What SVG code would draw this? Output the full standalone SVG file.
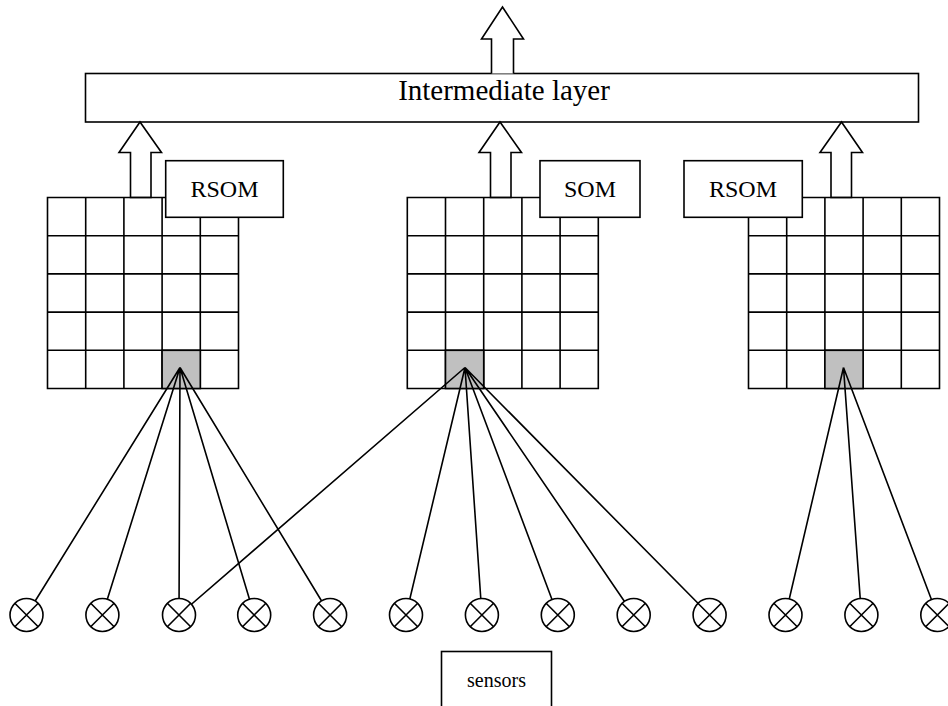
<svg xmlns="http://www.w3.org/2000/svg" width="948" height="706" viewBox="0 0 948 706">
  <style>
    .ln { fill: none; stroke: #000; stroke-width: 1.6; }
    .box { fill: #fff; stroke: #000; stroke-width: 1.6; }
    .arrow { fill: #fff; stroke: #000; stroke-width: 1.6; stroke-linejoin: miter; }
    .win { fill: #c0c0c0; stroke: #000; stroke-width: 1.6; }
    .lbl { font-family: "Liberation Serif", "Times New Roman", serif; fill: #000; text-anchor: middle; }
    .sensor { fill: #fff; stroke: #000; stroke-width: 1.6; }
  </style>
  <defs>
    <!-- 5x5 map grid, cell 38.2 -->
    <g id="grid">
      <path class="ln" d="M0,0 H191 V191 H0 Z M38.2,0 V191 M76.4,0 V191 M114.6,0 V191 M152.8,0 V191 M0,38.2 H191 M0,76.4 H191 M0,114.6 H191 M0,152.8 H191"/>
    </g>
    <!-- sensor symbol: circle with a cross -->
    <g id="sensor">
      <circle class="sensor" cx="0" cy="0" r="16.5"/>
      <path class="ln" d="M-11.7,-11.7 L11.7,11.7 M11.7,-11.7 L-11.7,11.7"/>
    </g>
  </defs>

  <!-- intermediate layer -->
  <g id="intermediate">
    <rect class="box" x="85.5" y="73.5" width="833" height="48.5"/>
    <text class="lbl" x="504" y="100" font-size="29">Intermediate layer</text>
  </g>

  <!-- output arrow -->
  <g id="out-arrow">
    <path class="arrow" d="M491.5,73.5 V39 H481.5 L502.5,7 L523.5,39 H513.5 V73.5"/>
  </g>

  <!-- left RSOM -->
  <g id="rsom-left">
    <path class="arrow" d="M130.5,197.5 V152.5 H119 L140,122 L161.5,152.5 H151 V197.5 Z"/>
    <use href="#grid" x="47.5" y="197.5"/>
    <rect class="win" x="162.1" y="350.3" width="38.2" height="38.2"/>
    <rect class="box" x="165.7" y="160.7" width="117.6" height="56.6"/>
    <text class="lbl" x="224.5" y="197" font-size="24">RSOM</text>
  </g>

  <!-- middle SOM -->
  <g id="som-middle">
    <path class="arrow" d="M490.5,197.5 V152.5 H479 L500,122 L521.5,152.5 H511 V197.5 Z"/>
    <use href="#grid" x="407.3" y="197.5"/>
    <rect class="win" x="445.5" y="350.3" width="38.2" height="38.2"/>
    <rect class="box" x="540" y="160.7" width="100" height="56.6"/>
    <text class="lbl" x="590" y="197" font-size="24">SOM</text>
  </g>

  <!-- right RSOM -->
  <g id="rsom-right">
    <path class="arrow" d="M831,197.5 V152.5 H820 L841.5,122 L862.5,152.5 H851.5 V197.5 Z"/>
    <use href="#grid" x="748.5" y="197.5"/>
    <rect class="win" x="824.9" y="350.3" width="38.2" height="38.2"/>
    <rect class="box" x="684" y="160.7" width="118.3" height="56.6"/>
    <text class="lbl" x="743" y="197" font-size="24">RSOM</text>
  </g>

  <!-- connectors: sensor links to winning units -->
  <g id="connectors">
    <g class="ln">
      <path d="M180,367.5 L26.5,615 M180,367.5 L102.4,615 M180,367.5 L179,615 M180,367.5 L254.2,615 M180,367.5 L330.1,615"/>
      <path d="M465,367.5 L179,615 M465,367.5 L406,615 M465,367.5 L481.9,615 M465,367.5 L557.8,615 M465,367.5 L633.7,615 M465,367.5 L709.6,615"/>
      <path d="M843.5,367.5 L785.5,615 M843.5,367.5 L861.4,615 M843.5,367.5 L937.3,615"/>
    </g>
  </g>

  <!-- sensor row -->
  <g id="sensors-row">
    <use href="#sensor" x="26.5" y="615"/>
    <use href="#sensor" x="102.4" y="615"/>
    <use href="#sensor" x="179" y="615"/>
    <use href="#sensor" x="254.2" y="615"/>
    <use href="#sensor" x="330.1" y="615"/>
    <use href="#sensor" x="406" y="615"/>
    <use href="#sensor" x="481.9" y="615"/>
    <use href="#sensor" x="557.8" y="615"/>
    <use href="#sensor" x="633.7" y="615"/>
    <use href="#sensor" x="709.6" y="615"/>
    <use href="#sensor" x="785.5" y="615"/>
    <use href="#sensor" x="861.4" y="615"/>
    <use href="#sensor" x="937.3" y="615"/>
  </g>

  <!-- sensors label -->
  <g id="sensors-label">
    <rect class="box" x="441.5" y="651.5" width="110" height="80"/>
    <text class="lbl" x="496.5" y="687" font-size="20">sensors</text>
  </g>
</svg>
